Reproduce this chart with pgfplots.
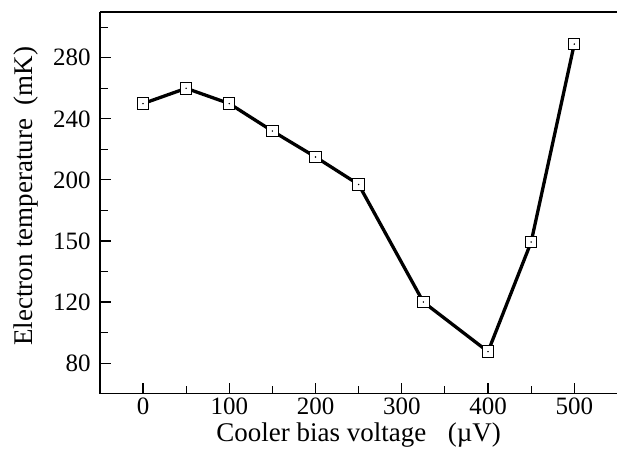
\documentclass[border=0pt]{standalone}
\usepackage{fontspec}
\setmainfont{Liberation Serif}
\usepackage{pgfplots}
\pgfplotsset{compat=1.18}
\begin{document}
\begin{tikzpicture}
\begin{axis}[
    scale only axis,
    width=518pt, height=382pt,
    xmin=-50, xmax=550, ymin=60, ymax=310,
    axis x line*=box, axis y line*=left,
    xtick pos=lower, ytick pos=left,
    xtick={0,100,...,500},
    minor xtick={50,150,250,350,450},
    ytick={80,120,160,200,240,280},
    yticklabels={80,120,150,200,240,280},
    minor ytick={100,140,180,220,260,300},
    tick align=inside,
    major tick length=11pt, minor tick length=8pt,
    every tick/.style={black, line width=1.1pt},
    axis line style={line width=1.2pt},
    tick label style={font=\fontsize{25}{28}\selectfont, inner sep=0pt},
    xticklabel style={anchor=base, yshift=-21pt},
    yticklabel style={anchor=east, xshift=-9pt},
    label style={font=\fontsize{27}{30}\selectfont, inner sep=0pt},
    /pgf/number format/assume math mode=true,
    xlabel={Cooler bias voltage\hspace{0.8em}(µV)},
    xlabel style={at={(axis description cs:0.5,0)}, anchor=base, yshift=-48pt},
    ylabel={Electron temperature\hspace{0.5em}(mK)},
    ylabel style={at={(axis description cs:-0.1293,0.517)}, anchor=base},
]
\addplot[black, line width=3.3pt, mark=square*,
    mark options={fill=white, line width=1pt, mark size=5.7pt}] coordinates {
    (0,250) (50,260) (100,250) (150,232) (200,215) (250,197)
    (325,120) (400,87.5) (450,159.3) (500,289)
};
\addplot[only marks, black, mark=*, mark size=0.5pt] coordinates {
    (0,250) (50,260) (100,250) (150,232) (200,215) (250,197)
    (325,120) (400,87.5) (450,159.3) (500,289)
};
\end{axis}
\path (current axis.north west) ++(-100pt,12pt);
\path (current axis.south west) ++(0,-76pt);
\end{tikzpicture}
\end{document}
